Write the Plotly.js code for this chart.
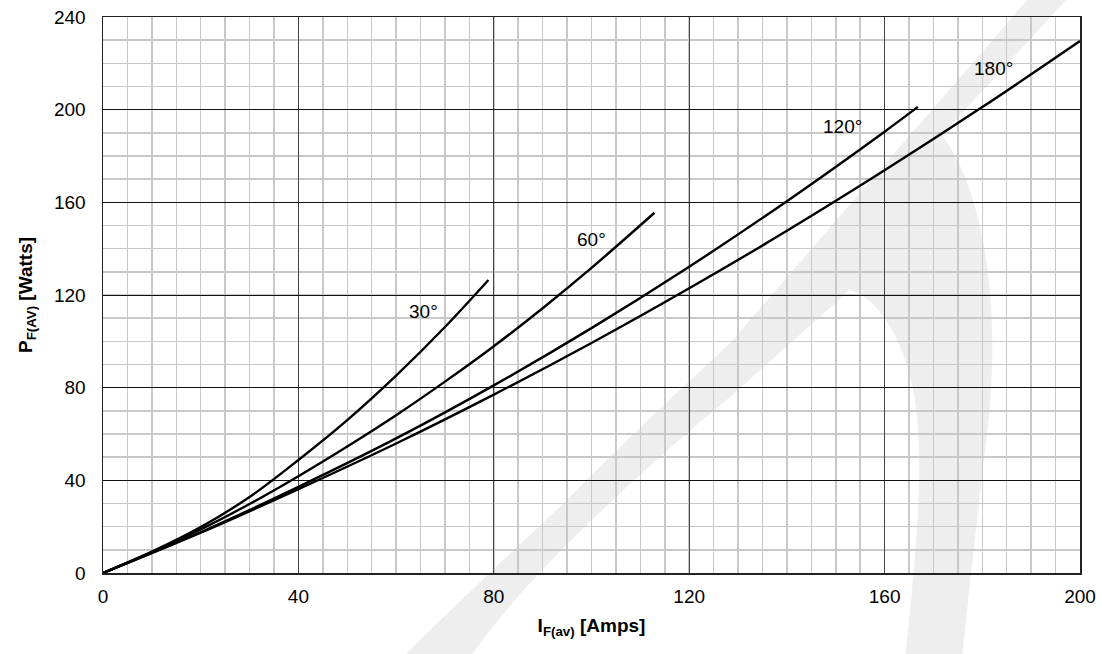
<!DOCTYPE html>
<html>
<head>
<meta charset="utf-8">
<script src="https://cdn.plot.ly/plotly-3.0.1.min.js"></script>
<style>html,body{margin:0;padding:0;background:#fff;}#chart{width:1102px;height:654px;}</style>
</head>
<body>
<div id="chart"></div>
<script>
// Curve data (I_F(av) in Amps, P_F(AV) in Watts)
const x30  = [0, 10, 20, 30, 40, 50, 60, 70, 78.9];
const y30  = [0, 9.2, 19.8, 32.8, 48.8, 66, 85.2, 106.2, 126.5];
const x60  = [0, 10, 20, 30, 40, 50, 60, 70, 80, 90, 100, 112.9];
const y60  = [0, 9, 18.8, 29.8, 41.8, 54.6, 68.1, 82.6, 97.9, 114.3, 131.7, 155.5];
const x120 = [0, 20, 40, 60, 80, 100, 120, 140, 160, 166.8];
const y120 = [0, 17.6, 37.2, 58.1, 81.0, 105.7, 132.2, 160.5, 190.5, 201.2];
const x180 = [0, 20, 40, 60, 80, 100, 120, 140, 160, 180, 200];
const y180 = [0, 17.4, 36.2, 55.9, 77.0, 99.3, 122.9, 147.7, 173.8, 201.1, 229.6];

const curveLabels = ['30°', '60°', '120°', '180°'];
const labelX = [65.6, 100.1, 151.4, 182.2];
const labelY = [112.8, 144.0, 192.6, 217.8];

const xTicks = [0, 40, 80, 120, 160, 200];
const yTicks = [0, 40, 80, 120, 160, 200, 240];

const FONT = 'Liberation Sans, Arial, sans-serif';
const lineStyle = {color: '#000', width: 2.4, shape: 'spline', smoothing: 1};

const traces = [[x30, y30], [x60, y60], [x120, y120], [x180, y180]].map((d, i) => ({
  x: d[0], y: d[1], type: 'scatter', mode: 'lines', line: lineStyle,
  name: curveLabels[i], hoverinfo: 'skip'
}));

const annotations = curveLabels.map((t, i) => ({
  x: labelX[i], y: labelY[i], xref: 'x', yref: 'y', text: t, showarrow: false,
  font: {family: FONT, size: 19, color: '#000'}
}));

// Decorative light watermark (background logo), drawn in paper space
const PL = 103, PR = 1080, PT = 17, PB = 573;
function px(x, y) { return ((x - PL) / (PR - PL)).toFixed(4) + ',' + ((PB - y) / (PB - PT)).toFixed(4); }
const wmPath =
  'M' + px(400, 660) +
  ' C' + px(470, 590) + ' ' + px(520, 545) + ' ' + px(567, 500) +
  ' C' + px(620, 445) + ' ' + px(680, 390) + ' ' + px(730, 343) +
  ' L' + px(1027, 0) + ' L' + px(1066, 0) + ' L' + px(942, 135) +
  ' C' + px(990, 200) + ' ' + px(1002, 330) + ' ' + px(985, 450) +
  ' C' + px(975, 540) + ' ' + px(968, 600) + ' ' + px(962, 660) +
  ' L' + px(905, 660) +
  ' C' + px(915, 560) + ' ' + px(925, 470) + ' ' + px(915, 400) +
  ' C' + px(905, 340) + ' ' + px(880, 300) + ' ' + px(850, 290) +
  ' L' + px(730, 397) +
  ' C' + px(690, 430) + ' ' + px(650, 465) + ' ' + px(613, 500) +
  ' C' + px(560, 550) + ' ' + px(510, 600) + ' ' + px(468, 660) + ' Z';

const layout = {
  width: 1102, height: 654,
  margin: {l: 103, r: 22, t: 17, b: 81},
  paper_bgcolor: '#fff', plot_bgcolor: '#fff',
  showlegend: false,
  font: {family: FONT, size: 19, color: '#000'},
  xaxis: {
    range: [0, 200], tickvals: xTicks, ticktext: xTicks.map(String),
    showgrid: true, gridcolor: '#444', gridwidth: 1,
    minor: {dtick: 5, showgrid: true, gridcolor: '#c8c8c8', gridwidth: 1.5, ticks: ''},
    showline: true, linecolor: '#222', linewidth: 1.5, mirror: true,
    zeroline: false, ticks: '', ticklabelstandoff: 6,
    tickfont: {family: FONT, size: 19, color: '#000'},
    title: {text: '<b>I<sub>F(av)</sub> [Amps]</b>', font: {family: FONT, size: 19, color: '#000'}, standoff: 12}
  },
  yaxis: {
    range: [0, 240], tickvals: yTicks, ticktext: yTicks.map(String),
    showgrid: true, gridcolor: '#111', gridwidth: 1,
    minor: {dtick: 10, showgrid: true, gridcolor: '#c8c8c8', gridwidth: 1.5, ticks: ''},
    showline: true, linecolor: '#222', linewidth: 1.5, mirror: true,
    zeroline: false, ticks: '', ticklabelstandoff: 12,
    tickfont: {family: FONT, size: 19, color: '#000'},
    title: {text: '<b>P<sub>F(AV)</sub> [Watts]</b>', font: {family: FONT, size: 19, color: '#000'}, standoff: 16}
  },
  shapes: [{
    type: 'path', xref: 'paper', yref: 'paper', path: wmPath, layer: 'between',
    fillcolor: 'rgba(0,0,0,0.065)', line: {width: 0}
  }],
  annotations: annotations
};

Plotly.newPlot('chart', traces, layout, {staticPlot: true, displayModeBar: false});
</script>
</body>
</html>
